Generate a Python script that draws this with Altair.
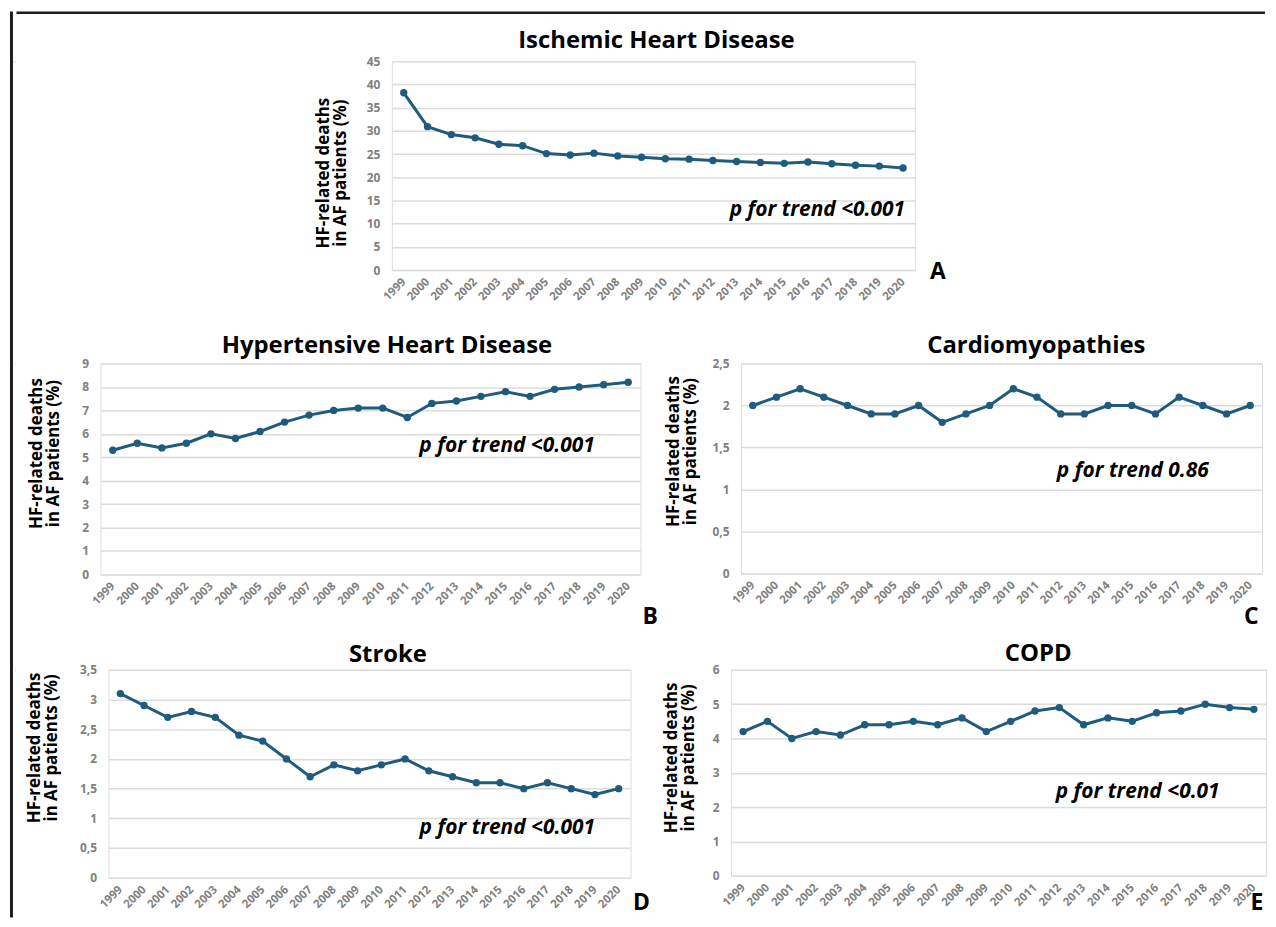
import altair as alt
import pandas as pd

# ---------------- data ----------------
years = ["1999", "2000", "2001", "2002", "2003", "2004", "2005", "2006", "2007", "2008", "2009",
         "2010", "2011", "2012", "2013", "2014", "2015", "2016", "2017", "2018", "2019", "2020"]

ischemic = [38.2, 30.9, 29.2, 28.5, 27.1, 26.8, 25.1, 24.8, 25.2, 24.6, 24.3,
            24.0, 23.9, 23.6, 23.4, 23.2, 23.0, 23.3, 22.9, 22.6, 22.4, 22.0]
hypertensive = [5.3, 5.6, 5.4, 5.6, 6.0, 5.8, 6.1, 6.5, 6.8, 7.0, 7.1,
                7.1, 6.7, 7.3, 7.4, 7.6, 7.8, 7.6, 7.9, 8.0, 8.1, 8.2]
cardiomyopathies = [2.0, 2.1, 2.2, 2.1, 2.0, 1.9, 1.9, 2.0, 1.8, 1.9, 2.0,
                    2.2, 2.1, 1.9, 1.9, 2.0, 2.0, 1.9, 2.1, 2.0, 1.9, 2.0]
stroke = [3.1, 2.9, 2.7, 2.8, 2.7, 2.4, 2.3, 2.0, 1.7, 1.9, 1.8,
          1.9, 2.0, 1.8, 1.7, 1.6, 1.6, 1.5, 1.6, 1.5, 1.4, 1.5]
copd = [4.2, 4.5, 4.0, 4.2, 4.1, 4.4, 4.4, 4.5, 4.4, 4.6, 4.2,
        4.5, 4.8, 4.9, 4.4, 4.6, 4.5, 4.75, 4.8, 5.0, 4.9, 4.85]

titles = ["Ischemic Heart Disease", "Hypertensive Heart Disease", "Cardiomyopathies", "Stroke", "COPD"]
y_ticks_a = [0, 5, 10, 15, 20, 25, 30, 35, 40, 45]
y_ticks_b = [0, 1, 2, 3, 4, 5, 6, 7, 8, 9]
y_ticks_c = [0, 0.5, 1, 1.5, 2, 2.5]
y_ticks_d = [0, 0.5, 1, 1.5, 2, 2.5, 3, 3.5]
y_ticks_e = [0, 1, 2, 3, 4, 5, 6]
p_labels = ["p for trend <0.001", "p for trend <0.001", "p for trend 0.86", "p for trend <0.001", "p for trend <0.01"]
letters = ["A", "B", "C", "D", "E"]
y_title = ["HF-related deaths", "in AF patients (%)"]

LINE = "#1F5B7D"
FONT = "Open Sans"
GRID = "#dcdcdc"
LABEL = "#808080"
FRAME = "#1e1e1e"
FRAME_X1 = 9       # page x of the left frame line
FRAME_X2 = 12
SPACER_W = 0.5
ROW_X = FRAME_X2   # page x of every row origin
LEFT = ROW_X + SPACER_W
RIGHT = 1268
TOP = 8            # page y of the top frame line
BOTTOM = 919


def one():
    return alt.Chart(pd.DataFrame({"k": [0]}))


def box(x1, x2, y1, y2, ox, oy, color, opacity):
    return one().mark_rect(color=color, opacity=opacity).encode(
        x=alt.value(x1 - ox), x2=alt.value(x2 - ox), y=alt.value(y1 - oy), y2=alt.value(y2 - oy))


def spacer(oy, y1, y2):
    # invisible cell that pins every row's origin to the same page x
    return alt.layer(box(ROW_X, LEFT, y1, y2, ROW_X, oy, "white", 0)).properties(
        width=SPACER_W, height=0.5)


def panel(values, ticks, title, p_label, letter, ox, oy, w, h,
          title_c, ytx, yty, p_year, p_val, p_dx, l_dx, l_dy, cell, extra=()):
    ymax = ticks[-1]
    xenc = alt.X("year:O", sort=years,
                 scale=alt.Scale(type="point", padding=0.5),
                 axis=alt.Axis(title=None, grid=False, domain=False, ticks=False,
                               labelAngle=-45, labelAlign="right", labelBaseline="middle",
                               labelPadding=10, labelFont=FONT, labelFontSize=11.5,
                               labelFontWeight="bold", labelColor=LABEL))
    yenc = alt.Y("value:Q",
                 scale=alt.Scale(domain=[0, ymax], nice=False, zero=True),
                 axis=alt.Axis(values=ticks, grid=True, gridColor=GRID, gridWidth=1.5,
                               domain=False, ticks=False, labelPadding=12,
                               labelFont=FONT, labelFontSize=12, labelFontWeight="bold",
                               labelColor=LABEL,
                               labelExpr="replace(format(datum.value, '~g'), '.', ',')",
                               title=y_title, titleFont=FONT, titleFontSize=17,
                               titleFontWeight="bold", titleColor="black",
                               titleLineHeight=17, titleX=ytx, titleY=yty))

    df = pd.DataFrame({"year": years, "value": values})
    line = alt.Chart(df).mark_line(color=LINE, strokeWidth=3).encode(x=xenc, y=yenc)
    pts = alt.Chart(df).mark_circle(color=LINE, size=55, opacity=1).encode(x=xenc, y=yenc)

    pdf = pd.DataFrame({"year": [p_year], "value": [p_val], "label": [p_label]})
    ptext = alt.Chart(pdf).mark_text(align="right", baseline="middle", font=FONT, fontSize=21,
                                     fontStyle="italic", fontWeight="bold", color="black",
                                     dx=p_dx).encode(x=xenc, y=yenc, text="label:N")

    ldf = pd.DataFrame({"year": ["2020"], "value": [0], "label": [letter]})
    ltext = alt.Chart(ldf).mark_text(align="center", baseline="middle", font=FONT, fontSize=23,
                                     fontWeight="bold", color="black",
                                     dx=l_dx, dy=l_dy).encode(x=xenc, y=yenc, text="label:N")

    ttext = one().mark_text(align="center", baseline="middle", font=FONT, fontSize=24,
                            fontWeight="bold", color="black", text=title).encode(
        x=alt.value(title_c[0] - ox), y=alt.value(title_c[1] - oy))

    x1, x2, y1, y2 = cell
    layers = [box(x1, x2, y1, y2, ox, oy, "white", 0)]
    for (fx1, fx2, fy1, fy2) in extra:
        layers.append(box(fx1, fx2, fy1, fy2, ox, oy, FRAME, 1))
    layers += [line, pts, ptext, ltext, ttext]
    return alt.layer(*layers).properties(width=w, height=h)


A_OY = 58
A = panel(ischemic, y_ticks_a, titles[0], p_labels[0], letters[0],
          390, A_OY, 526, 210, (656, 38), -60, 112, "2020", 12.9, 2, 35, 2,
          (LEFT, RIGHT, TOP, 316), extra=[(LEFT, RIGHT, TOP, TOP + 2.5)])
B = panel(hypertensive, y_ticks_b, titles[1], p_labels[1], letters[1],
          97, 362, 543, 212, (385, 344), -55, 90, "2019", 5.5, -9, 22, 43,
          (LEFT, 662, 318, 635))
C = panel(cardiomyopathies, y_ticks_c, titles[2], p_labels[2], letters[2],
          739, 362, 524, 211, (1036, 344), -59, 88, "2018", 1.22, 6, 1, 44,
          (662, RIGHT, 318, 635))
D = panel(stroke, y_ticks_d, titles[3], p_labels[3], letters[3],
          105, 670, 525, 209, (386, 655), -65, 78, "2019", 0.83, 0, 23, 25,
          (LEFT, 657, 637, BOTTOM))
E = panel(copd, y_ticks_e, titles[4], p_labels[4], letters[4],
          729, 670, 538, 207, (1038, 654), -51, 88, "2019", 2.45, -10, 3, 27,
          (657, RIGHT, 637, BOTTOM))

rows = alt.vconcat(
    alt.hconcat(spacer(A_OY, TOP, 316), A, spacing=0),
    alt.hconcat(spacer(362, 318, 635), B, C, spacing=0),
    alt.hconcat(spacer(670, 637, BOTTOM), D, E, spacing=0),
    spacing=0,
)

# continuous left frame line, in its own column; its origin shares the page y of panel A
frame = alt.layer(box(FRAME_X1, FRAME_X2, TOP, BOTTOM, FRAME_X1, A_OY, FRAME, 1)).properties(
    width=FRAME_X2 - FRAME_X1, height=0.5)

chart = alt.hconcat(frame, rows, spacing=0).properties(
    padding={"left": 1, "top": 0, "right": 0, "bottom": 0}
).configure_view(stroke=None, strokeWidth=0).configure(background="white")

chart.save("out.html", embed_options={"renderer": "svg", "actions": False})
